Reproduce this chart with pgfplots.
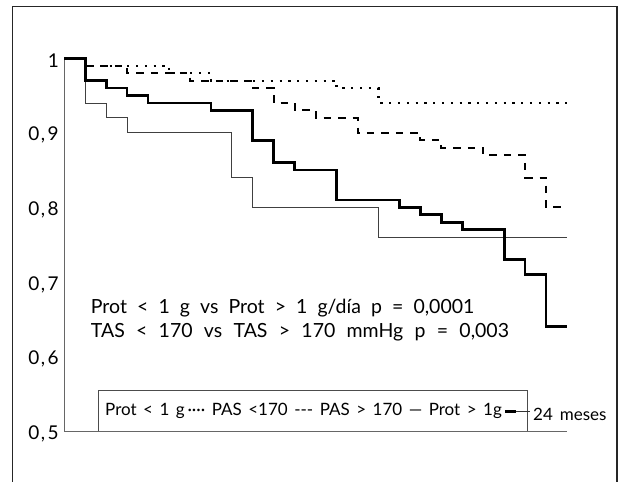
\documentclass[border=0pt]{standalone}
\usepackage{pgfplots}
\pgfplotsset{compat=1.18}
\usepackage{fontspec}
\setmainfont{Lato}
\begin{document}
\begin{tikzpicture}
\begin{axis}[
  at={(0,0)}, anchor=south west,
  scale only axis, width=502.7bp, height=372.7bp,
  xmin=0, xmax=24, ymin=0.5, ymax=1,
  axis x line*=bottom, axis y line*=left,
  axis line style={black!60, line width=0.9bp},
  xtick=\empty,
  ytick={0.5,0.6,0.7,0.8,0.9,1},
  yticklabels={{0\kern1.5bp,\kern2.5bp5},{0\kern1.5bp,\kern2.5bp6},{0\kern1.5bp,\kern2.5bp7},{0\kern1.5bp,\kern2.5bp8},{0\kern1.5bp,\kern2.5bp9},{1}},
  major tick length=0pt,
  yticklabel style={font=\fontsize{19bp}{22bp}\selectfont, xshift=-2bp, yshift=-2.5bp},
  clip=false,
]
% PAS > 170 (thin solid)
\addplot[const plot, black!75, line width=1bp] coordinates {
(0,1) (1,0.94) (2,0.92) (3,0.90) (8,0.84) (9,0.80) (15,0.76) (24,0.76)};
% Prot < 1 g (dotted)
\addplot[const plot, black, line width=2.2bp, dash pattern=on 2.2bp off 6.6bp] coordinates {
(0,1) (1,0.99) (5,0.98) (7,0.97) (13,0.96) (15,0.94) (24,0.94)};
% PAS < 170 (dashed)
\addplot[const plot, black, line width=2bp, dash pattern=on 7.5bp off 7bp] coordinates {
(0,1) (1,0.99) (3,0.98) (6,0.97) (9,0.96) (10,0.94) (11,0.93) (12,0.92) (14,0.90) (17,0.89) (18,0.88) (20,0.87) (22,0.84) (23,0.80) (24,0.80)};
% Prot > 1 g (thick solid)
\addplot[const plot, black, line width=2.7bp] coordinates {
(0,1) (1,0.97) (2,0.96) (3,0.95) (4,0.94) (7,0.93) (9,0.89) (10,0.86) (11,0.85) (13,0.81) (16,0.80) (17,0.79) (18,0.78) (19,0.77) (21,0.73) (22,0.71) (23,0.64) (24,0.64)};
\end{axis}
% annotation
\node[anchor=base west, inner sep=0, font={\fontsize{19.5bp}{22bp}\selectfont\spaceskip=10.1bp\relax}] at (26.4bp,117.7bp) {Prot < 1 g vs Prot > 1 g/día p = 0,0001};
\node[anchor=base west, inner sep=0, font={\fontsize{19.5bp}{22bp}\selectfont\spaceskip=11.3bp\relax}] at (26.4bp,93.7bp) {TAS < 170 vs TAS > 170 mmHg p = 0,003};
% legend box
\draw[black!70, line width=0.9bp] (34bp,0) -- (34bp,40.3bp) -- (462.7bp,40.3bp) -- (462.7bp,0);
\node[anchor=west, inner sep=0, font={\fontsize{17bp}{20bp}\selectfont\spaceskip=6.5bp\relax}] (leg) at (40.7bp,20.5bp) {Prot < 1 g\,····\ PAS <170 -{}-{}-\ PAS > 170 — Prot > 1g\hspace{3bp}\rule[0.3ex]{11bp}{2.7bp}};
\coordinate (R) at (465.7bp,0);
\draw[black!80, line width=0.8bp] ([yshift=3.9bp]leg.base east) coordinate (a) -- (a -| R);
\node[anchor=base west, inner sep=0, font={\fontsize{17bp}{20bp}\selectfont\spaceskip=7bp\relax}] at (468.7bp,11bp) {24 meses};
% outer frame
\draw[black!85, line width=1.5bp] (-51.7bp,-70bp) -- (-51.7bp,424.5bp) -- (552.7bp,424.5bp) -- (552.7bp,-70bp);
\pgfresetboundingbox
\path[use as bounding box] (-64.3bp,-51bp) rectangle (558.7bp,431bp);
\end{tikzpicture}
\end{document}
